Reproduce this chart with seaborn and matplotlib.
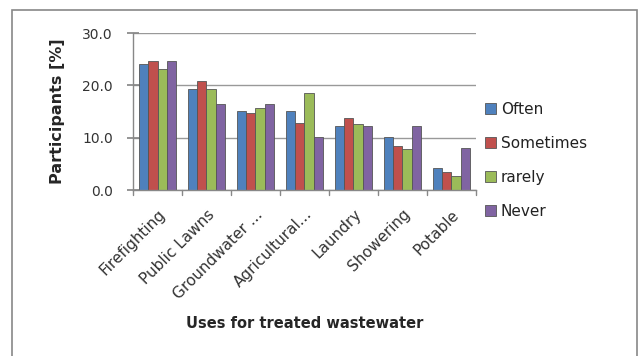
import pandas as pd
import seaborn as sns
import matplotlib.pyplot as plt
from matplotlib.patches import Rectangle

# values (percent of participants)
uses = ['Firefighting', 'Public Lawns', 'Groundwater ...', 'Agricultural...',
        'Laundry', 'Showering', 'Potable']
often = [24.1, 19.4, 15.1, 15.1, 12.3, 10.1, 4.3]
sometimes = [24.7, 20.8, 14.7, 12.9, 13.8, 8.5, 3.5]
rarely = [23.1, 19.3, 15.7, 18.5, 12.7, 7.8, 2.7]
never = [24.7, 16.4, 16.4, 10.1, 12.2, 12.2, 8.1]
freq_labels = ['Often', 'Sometimes', 'rarely', 'Never']

rows = []
for lab, vals in zip(freq_labels, [often, sometimes, rarely, never]):
    for u, v in zip(uses, vals):
        rows.append({'use': u, 'freq': lab, 'pct': v})
df = pd.DataFrame(rows)

sns.set_theme(style="white")
plt.rcParams['font.family'] = ['DejaVu Sans']
excel_cols = ['#4F81BD', '#C0504D', '#9BBB59', '#8064A2']

fig = plt.figure(figsize=(6.41, 3.56), dpi=100)
ax = fig.add_axes([0.2075, 0.466, 0.535, 0.441])

sns.barplot(data=df, x='use', y='pct', hue='freq', hue_order=freq_labels,
            order=uses, palette=excel_cols, width=0.75, saturation=1, ax=ax,
            edgecolor='#555555', linewidth=0.6, errorbar=None)

ax.set_ylim(0, 30)
ax.set_yticks([0, 10, 20, 30])
ax.set_yticklabels([f'{t:.1f}' for t in [0, 10, 20, 30]], fontsize=10, color='#333333')
ax.yaxis.grid(True, color='#999999', linewidth=1)
ax.set_axisbelow(True)
ax.set_xlim(-0.5, len(uses) - 0.5)
ax.set_xticks(range(len(uses)))
ax.set_xticklabels(uses, rotation=45, ha='right', rotation_mode='anchor',
                   fontsize=11, color='#333333')
ax.tick_params(axis='y', length=9, color='#888888', direction='inout', left=True, pad=10)
ax.tick_params(axis='x', length=0, pad=12)
for x in [i + 0.5 for i in range(-1, len(uses))]:
    ax.plot([x, x], [0, -0.9], color='#888888', lw=1, clip_on=False)
for s in ['top', 'right']:
    ax.spines[s].set_visible(False)
for s in ['left', 'bottom']:
    ax.spines[s].set_color('#888888')
    ax.spines[s].set_linewidth(1)

ax.set_ylabel('Participants [%]', fontsize=11.5, fontweight='bold', labelpad=12)
ax.set_xlabel('Uses for treated wastewater', fontsize=10.5, fontweight='bold', labelpad=10)

ax.legend(loc='upper left', bbox_to_anchor=(0.995, 0.63), frameon=False,
          fontsize=11, handlelength=0.7, handleheight=0.7, labelspacing=1.25,
          handletextpad=0.35, borderaxespad=0.3, labelcolor='#222222')

# outer chart border like the Excel chart frame
fig.patches.append(Rectangle((0.019, -0.01), 0.975, 0.982, transform=fig.transFigure,
                             fill=False, edgecolor='#888888', linewidth=1.2))

fig.savefig('out.png', dpi=100)
